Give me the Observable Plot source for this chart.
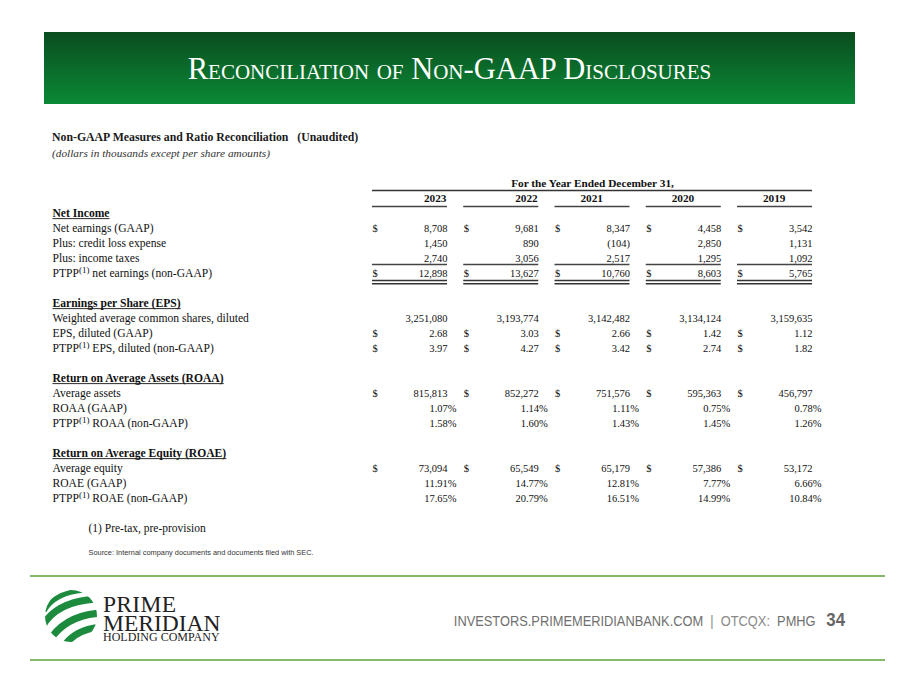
<!DOCTYPE html>
<html><head><meta charset="utf-8">
<script src="https://cdn.jsdelivr.net/npm/d3@7"></script>
<script src="https://cdn.jsdelivr.net/npm/@observablehq/plot@0.6"></script>
<style>
body{margin:0;background:#fff;}
#page{position:relative;width:900px;height:675px;overflow:hidden;background:#fff;font-family:"Liberation Serif",serif;color:#1a1a1a;}
#banner{position:absolute;left:44px;top:32px;width:811px;height:72px;background:linear-gradient(#0a4d1f,#0b8936);}
#title{position:absolute;left:44px;width:811px;top:54px;text-align:center;color:#fff;font-size:30.5px;line-height:30px;font-variant:small-caps;}
#sub1{position:absolute;left:52px;top:130px;font-weight:bold;font-size:11.8px;line-height:14px;white-space:pre;}
#sub2{position:absolute;left:52px;top:146px;font-style:italic;font-size:11.3px;line-height:14px;color:#333;}
#chart{position:absolute;left:0;top:165px;}
.hline{position:absolute;left:30px;width:855px;height:2px;background:#86b96a;}
#logo{position:absolute;left:44px;top:589px;}
.brand{position:absolute;left:103px;color:#222;white-space:pre;}
#brand1{top:596px;font-size:23.5px;line-height:17px;letter-spacing:0.3px;}
#brand2{top:615px;font-size:23.5px;line-height:17px;}
#brand3{top:632px;font-size:12px;line-height:10px;}
#foot{position:absolute;right:55px;top:609px;font-family:"Liberation Sans",sans-serif;font-size:14.5px;line-height:22px;color:#6f6f6f;white-space:pre;transform:scaleX(0.885);transform-origin:right center;}
#foot .pg{font-weight:bold;font-size:19px;color:#666;}
#foot .sep{color:#8a8a8a;}
</style></head>
<body><div id="page">
<div id="banner"></div>
<div id="title">Reconciliation of Non-GAAP Disclosures</div>
<div id="sub1">Non-GAAP Measures and Ratio Reconciliation   (Unaudited)</div>
<div id="sub2">(dollars in thousands except per share amounts)</div>
<div id="chart"></div>
<div class="hline" style="top:575px"></div>
<div class="hline" style="top:659px"></div>
<svg id="logo" width="54" height="54" viewBox="0 0 54 54">
  <defs><clipPath id="c"><circle cx="27" cy="27" r="26"/></clipPath></defs>
  <g clip-path="url(#c)" fill="none" stroke="#1d8b3e">
    <path d="M0 22 Q10 4 40 1" stroke-width="5"/>
    <path d="M-2 38 Q12 12 54 10" stroke-width="7"/>
    <path d="M4 54 Q20 26 58 24" stroke-width="7"/>
    <path d="M18 60 Q30 40 58 38" stroke-width="7"/>
  </g>
</svg>
<div class="brand" id="brand1">PRIME</div>
<div class="brand" id="brand2">MERIDIAN</div>
<div class="brand" id="brand3">HOLDING COMPANY</div>
<div id="foot">INVESTORS.PRIMEMERIDIANBANK.COM  <span class="sep">|  OTCQX:</span>  PMHG   <span class="pg">34</span></div>
</div>
<script>
// ---- data ----
const years = ["2023", "2022", "2021", "2020", "2019"];
const tableHeader = "For the Year Ended December 31,";
const sectionTitles = ["Net Income", "Earnings per Share (EPS)", "Return on Average Assets (ROAA)", "Return on Average Equity (ROAE)"];
const netEarningsGaap = [8708, 9681, 8347, 4458, 3542];
const creditLossExpense = [1450, 890, -104, 2850, 1131];
const incomeTaxes = [2740, 3056, 2517, 1295, 1092];
const ptppNetEarnings = [12898, 13627, 10760, 8603, 5765];
const dilutedShares = [3251080, 3193774, 3142482, 3134124, 3159635];
const epsGaap = [2.68, 3.03, 2.66, 1.42, 1.12];
const epsPtpp = [3.97, 4.27, 3.42, 2.74, 1.82];
const averageAssets = [815813, 852272, 751576, 595363, 456797];
const roaaGaap = [1.07, 1.14, 1.11, 0.75, 0.78];
const roaaPtpp = [1.58, 1.60, 1.43, 1.45, 1.26];
const averageEquity = [73094, 65549, 65179, 57386, 53172];
const roaeGaap = [11.91, 14.77, 12.81, 7.77, 6.66];
const roaePtpp = [17.65, 20.79, 16.51, 14.99, 10.84];
const footnote = "(1) Pre-tax, pre-provision";
const sourceNote = "Source: Internal company documents and documents filed with SEC.";

// ---- table structure (row index per line) ----
const lines = [
  {row: 2, label: sectionTitles[0], header: true},
  {row: 3, label: "Net earnings (GAAP)", values: netEarningsGaap, fmt: "int", dollar: true},
  {row: 4, label: "Plus: credit loss expense", values: creditLossExpense, fmt: "int"},
  {row: 5, label: "Plus: income taxes", values: incomeTaxes, fmt: "int"},
  {row: 6, label: "PTPP(1) net earnings (non-GAAP)", values: ptppNetEarnings, fmt: "int", dollar: true},
  {row: 8, label: sectionTitles[1], header: true},
  {row: 9, label: "Weighted average common shares, diluted", values: dilutedShares, fmt: "int"},
  {row: 10, label: "EPS, diluted (GAAP)", values: epsGaap, fmt: "dec", dollar: true},
  {row: 11, label: "PTPP(1) EPS, diluted (non-GAAP)", values: epsPtpp, fmt: "dec", dollar: true},
  {row: 13, label: sectionTitles[2], header: true},
  {row: 14, label: "Average assets", values: averageAssets, fmt: "int", dollar: true},
  {row: 15, label: "ROAA (GAAP)", values: roaaGaap, fmt: "pct"},
  {row: 16, label: "PTPP(1) ROAA (non-GAAP)", values: roaaPtpp, fmt: "pct"},
  {row: 18, label: sectionTitles[3], header: true},
  {row: 19, label: "Average equity", values: averageEquity, fmt: "int", dollar: true},
  {row: 20, label: "ROAE (GAAP)", values: roaeGaap, fmt: "pct"},
  {row: 21, label: "PTPP(1) ROAE (non-GAAP)", values: roaePtpp, fmt: "pct"}
];
const comma = d3.format(",");
const fmt = (v, f) => f === "int" ? (v < 0 ? "(" + comma(-v) + ")" : comma(v)) : f === "dec" ? v.toFixed(2) : v.toFixed(2) + "%";
const cells = lines.filter(l => l.values).flatMap(l => l.values.map((v, col) => ({row: l.row, col, fmt: l.fmt, dollar: l.dollar, text: fmt(v, l.fmt)})));
const cols = years.map((y, i) => i);
const W = 75 / 91.25; // column width in column units
const serif = "Liberation Serif";
const ink = "#111";
const LS = 11.6; // label size
const VS = 10.5; // value size

const plot = Plot.plot({
  width: 900, height: 400,
  margin: 0,
  x: {type: "linear", domain: [0, 4], range: [372, 737], axis: null},
  y: {type: "linear", domain: [0, 21], range: [18, 333], axis: null},
  style: {background: "transparent", fontFamily: serif, fontSize: "11px", color: ink},
  marks: [
    Plot.text([tableHeader], {x: 2, y: 0, dx: 37.5, text: d => d, fontWeight: "bold", fontSize: 11.3, fill: ink}),
    Plot.ruleY([0.47], {x1: 0, x2: 4 + W, stroke: "#333", strokeWidth: 1.6}),
    Plot.text(years.slice(0, 2), {x: (d, i) => i, y: 1, dx: 74, text: d => d, textAnchor: "end", fontWeight: "bold", fontSize: 11.3, fill: ink}),
    Plot.text(years.slice(2), {x: (d, i) => i + 2, y: 1, dx: 48, text: d => d, textAnchor: "end", fontWeight: "bold", fontSize: 11.3, fill: ink}),
    Plot.ruleY(cols, {y: 1.53, x1: d => d, x2: d => d + W, stroke: "#444", strokeWidth: 1.6}),
    Plot.ruleY(cols, {y: 5.4, x1: d => d, x2: d => d + W, stroke: "#444", strokeWidth: 1.3}),
    Plot.ruleY(cols, {y: 6.47, x1: d => d, x2: d => d + W, stroke: "#333", strokeWidth: 1.4}),
    Plot.ruleY(cols, {y: 6.68, x1: d => d, x2: d => d + W, stroke: "#333", strokeWidth: 1.4}),
    Plot.text(lines.filter(l => l.header), {y: "row", text: "label", frameAnchor: "left", dx: 52, textAnchor: "start", fontWeight: "bold", fontSize: LS, fill: ink}),
    Plot.text(lines.filter(l => !l.header), {y: "row", text: "label", frameAnchor: "left", dx: 52, textAnchor: "start", fontSize: LS, fill: ink}),
    Plot.text(cells.filter(c => c.dollar), {x: "col", y: "row", text: () => "$", textAnchor: "start", fontSize: VS, fill: ink}),
    Plot.text(cells.filter(c => c.fmt !== "pct"), {x: "col", y: "row", text: "text", dx: 75, textAnchor: "end", fontSize: VS, fill: ink}),
    Plot.text(cells.filter(c => c.fmt === "pct"), {x: "col", y: "row", text: "text", dx: 84, textAnchor: "end", fontSize: VS, fill: ink}),
    Plot.text([footnote], {y: 23, text: d => d, frameAnchor: "left", dx: 88, textAnchor: "start", fontSize: 11.5, fill: ink}),
    Plot.text([sourceNote], {y: 24.6, text: d => d, frameAnchor: "left", dx: 88, textAnchor: "start", fontSize: 7.4, fontFamily: "Liberation Sans", fill: "#333"})
  ]
});
document.getElementById("chart").appendChild(plot);

const ns = "http://www.w3.org/2000/svg";
// underline section headers (measured from the rendered text)
const svgRect = plot.getBoundingClientRect();
plot.querySelectorAll("text").forEach(t => {
  if (sectionTitles.includes(t.textContent)) {
    const r = t.getBoundingClientRect();
    const ln = document.createElementNS(ns, "line");
    const yy = r.bottom - svgRect.top - 1.6;
    ln.setAttribute("x1", r.left - svgRect.left);
    ln.setAttribute("x2", r.right - svgRect.left);
    ln.setAttribute("y1", yy); ln.setAttribute("y2", yy);
    ln.setAttribute("stroke", ink); ln.setAttribute("stroke-width", "0.9");
    plot.appendChild(ln);
  }
});
// superscript (1) after PTPP
plot.querySelectorAll("text").forEach(t => {
  const s = t.textContent;
  if (s.startsWith("PTPP(1)")) {
    const rest = s.slice(7);
    t.textContent = "";
    const a = document.createElementNS(ns, "tspan"); a.textContent = "PTPP";
    const b = document.createElementNS(ns, "tspan"); b.textContent = "(1)"; b.setAttribute("dy", "-4"); b.setAttribute("font-size", "9");
    const c = document.createElementNS(ns, "tspan"); c.textContent = rest; c.setAttribute("dy", "4");
    t.append(a, b, c);
  }
});
</script>
</body></html>
